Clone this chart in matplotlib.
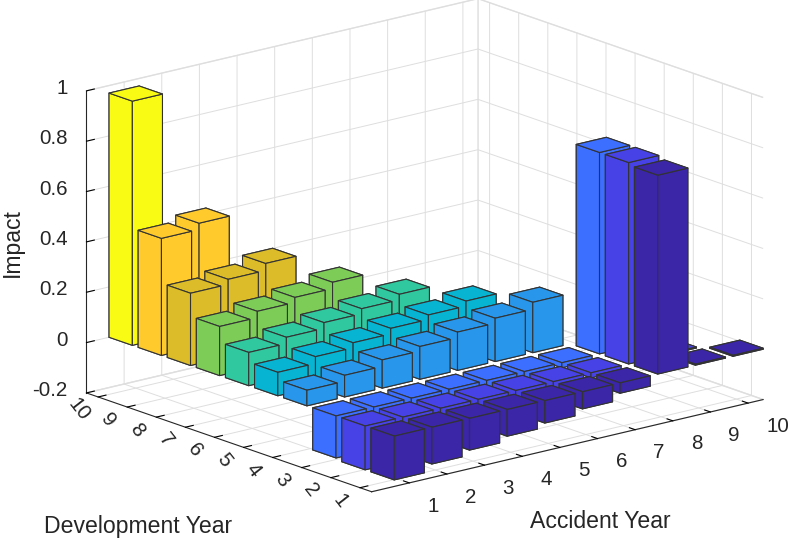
import matplotlib
matplotlib.use("Agg")
import matplotlib.pyplot as plt
from mpl_toolkits.mplot3d import proj3d

plt.rcParams["font.family"] = ["Liberation Sans", "DejaVu Sans"]

# heights, one list per development year, accident year 1 upward
dev1 = [-0.174, -0.146, -0.126, -0.106, -0.089, -0.068, -0.041, 0.79, 0.004, 0.004]
dev2 = [-0.174, -0.125, -0.10, -0.08, -0.06, -0.04, -0.02, 0.80, 0.004]
dev3 = [-0.167, -0.10, -0.08, -0.065, -0.05, -0.035, -0.02, 0.80]
dev4 = [0.062, 0.086, 0.112, 0.13, 0.152, 0.172, 0.2]
dev5 = [0.093, 0.12, 0.14, 0.162, 0.18, 0.2]
dev6 = [0.132, 0.157, 0.18, 0.2, 0.222]
dev7 = [0.195, 0.22, 0.24, 0.265]
dev8 = [0.287, 0.307, 0.335]
dev9 = [0.465, 0.49]
dev10 = [0.97]
rows = [dev1, dev2, dev3, dev4, dev5, dev6, dev7, dev8, dev9, dev10]

# parula steps, one per development year
row_colors = ["#3a26a6", "#4742e6", "#3c6eff", "#2896ea", "#07b4d2",
              "#30c89e", "#7dcc58", "#dcbc28", "#ffcb2c", "#f9fb15"]

years = list(range(1, 11))
z_ticks = [-0.2, 0, 0.2, 0.4, 0.6, 0.8, 1]
z_labels = ["-0.2", "0", "0.2", "0.4", "0.6", "0.8", "1"]

fig = plt.figure(figsize=(7.91, 5.4), dpi=100)
side = 725
cx, cy = 415, 255
ax = fig.add_axes([(cx - side / 2) / 791, (540 - cy - side / 2) / 540, side / 791, side / 540],
                  projection="3d", computed_zorder=False)
ax.set_proj_type("ortho")
ax.view_init(elev=16.6, azim=-129.5)
ax.set_box_aspect((507, 448, 315))
ax.patch.set_alpha(0)

ax.set_xlim(0, 10.4)
ax.set_ylim(0.6, 10.4)
ax.set_zlim(-0.2, 1.0)

# far bars first so the near ones paint over them
cells = []
for j, row in enumerate(rows):
    for i, h in enumerate(row):
        cells.append((i + 1, j + 1, h, row_colors[j]))
cells.sort(key=lambda c: -(c[0] + c[1]))
for n, (x, y, h, col) in enumerate(cells):
    ax.bar3d(x - 0.4, y - 0.4, 0, 0.8, 0.8, h, color=col, edgecolor="#333333",
             linewidth=0.8, shade=False, zorder=5 + n)

for axis in (ax.xaxis, ax.yaxis, ax.zaxis):
    axis.set_pane_color((1, 1, 1, 1))
    axis.pane.set_edgecolor("#e2e2e2")
    axis.line.set_color("#262626")
    axis.line.set_linewidth(0.8)
    axis._axinfo["grid"].update(color="#dedede", linewidth=0.7)
    axis._axinfo["tick"].update(inward_factor=0.0, outward_factor=0.25)
    axis._axinfo["tick"]["linewidth"] = {True: 0.8, False: 0.5}
    axis._axinfo["tick"]["color"] = "#262626"

ax.set_xticks(years)
ax.set_yticks(years)
ax.set_zticks(z_ticks)
for axis in (ax.xaxis, ax.yaxis, ax.zaxis):
    axis.set_tick_params(label1On=False, label2On=False)

# mplot3d pushes tick labels along the box and resets their transforms,
# so project a spot just outside the axes and put plain text there
proj = ax.get_proj()


def tick_text(x, y, z, s, **kw):
    px, py, _ = proj3d.proj_transform(x, y, z, proj)
    ax.text2D(px, py, s, transform=ax.transData, fontsize=14.8, color="#262626",
              va="center", zorder=500, **kw)


for v in years:
    tick_text(v, 0.6 - 0.62, -0.2 - 0.067, str(v), ha="left")
    tick_text(0 - 0.52, v, -0.2 - 0.033, str(v), ha="center", rotation=-52)
for v, s in zip(z_ticks, z_labels):
    tick_text(0, 10.4 + 0.653, v - 0.017, s, ha="right")

fig.text(138 / 791, 1 - 526 / 540, "Development Year", fontsize=16.6, color="#262626", ha="center", va="center")
fig.text(600 / 791, 1 - 522 / 540, "Accident Year", fontsize=16.6, color="#262626", ha="center", va="center")
fig.text(12 / 791, 1 - 243 / 540, "Impact", fontsize=16.6, color="#262626", rotation=90, ha="center", va="center")

fig.savefig("out.png", dpi=100)
